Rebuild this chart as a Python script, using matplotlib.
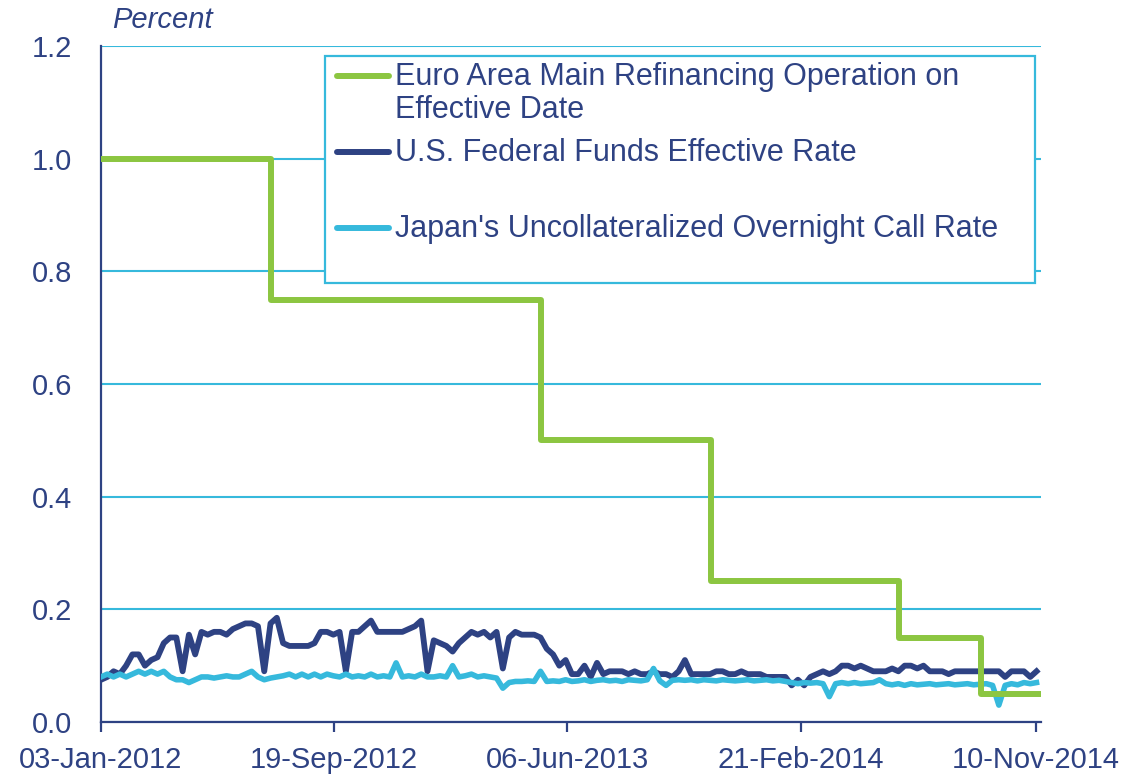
import numpy as np
import pandas as pd
import matplotlib
matplotlib.use("Agg")
import matplotlib.pyplot as plt
import matplotlib.dates as mdates
from matplotlib.lines import Line2D
from matplotlib.patches import Rectangle

plt.rcParams['font.family'] = ['Liberation Sans', 'DejaVu Sans']

weeks = pd.date_range("2012-01-03", periods=150, freq="7D")

fed_rate = [
    0.075, 0.08, 0.09, 0.085, 0.10, 0.12, 0.12, 0.10, 0.11, 0.115,
    0.14, 0.15, 0.15, 0.09, 0.155, 0.12, 0.16, 0.155, 0.16, 0.16,
    0.155, 0.165, 0.17, 0.175, 0.175, 0.17, 0.09, 0.175, 0.185, 0.14,
    0.135, 0.135, 0.135, 0.135, 0.14, 0.16, 0.16, 0.155, 0.16, 0.09,
    0.16, 0.16, 0.17, 0.18, 0.16, 0.16, 0.16, 0.16, 0.16, 0.165,
    0.17, 0.18, 0.09, 0.145, 0.14, 0.135, 0.125, 0.14, 0.15, 0.16,
    0.155, 0.16, 0.15, 0.16, 0.095, 0.15, 0.16, 0.155, 0.155, 0.155,
    0.15, 0.13, 0.12, 0.10, 0.11, 0.085, 0.085, 0.10, 0.08, 0.105,
    0.085, 0.09, 0.09, 0.09, 0.085, 0.09, 0.085, 0.085, 0.09, 0.085,
    0.085, 0.08, 0.09, 0.11, 0.085, 0.085, 0.085, 0.085, 0.09, 0.09,
    0.085, 0.085, 0.09, 0.085, 0.085, 0.085, 0.08, 0.08, 0.08, 0.08,
    0.065, 0.075, 0.065, 0.08, 0.085, 0.09, 0.085, 0.09, 0.10, 0.10,
    0.095, 0.10, 0.095, 0.09, 0.09, 0.09, 0.095, 0.09, 0.10, 0.10,
    0.095, 0.10, 0.09, 0.09, 0.09, 0.085, 0.09, 0.09, 0.09, 0.09,
    0.09, 0.09, 0.09, 0.09, 0.08, 0.09, 0.09, 0.09, 0.08, 0.09,
]

japan_rate = [
    0.08, 0.085, 0.08, 0.085, 0.08, 0.085, 0.09, 0.085, 0.09, 0.085,
    0.09, 0.08, 0.075, 0.075, 0.07, 0.075, 0.08, 0.08, 0.078, 0.08,
    0.082, 0.08, 0.08, 0.085, 0.09, 0.08, 0.075, 0.078, 0.08, 0.082,
    0.085, 0.08, 0.085, 0.08, 0.085, 0.08, 0.085, 0.082, 0.08, 0.085,
    0.08, 0.082, 0.08, 0.085, 0.08, 0.082, 0.08, 0.105, 0.08, 0.082,
    0.08, 0.085, 0.08, 0.08, 0.082, 0.08, 0.10, 0.08, 0.082, 0.085,
    0.08, 0.082, 0.08, 0.078, 0.06, 0.07, 0.072, 0.072, 0.073, 0.072,
    0.09, 0.072, 0.073, 0.072, 0.075, 0.072, 0.073, 0.075, 0.072, 0.074,
    0.075, 0.073, 0.074, 0.072, 0.075, 0.074, 0.073, 0.075, 0.095, 0.073,
    0.065, 0.074, 0.075, 0.074, 0.075, 0.073, 0.075, 0.074, 0.073, 0.075,
    0.074, 0.073, 0.074, 0.075, 0.073, 0.074, 0.075, 0.073, 0.074, 0.072,
    0.07, 0.068, 0.07, 0.069, 0.07, 0.068, 0.045, 0.068, 0.07, 0.068,
    0.07, 0.068, 0.069, 0.07, 0.075, 0.068, 0.066, 0.068, 0.065, 0.068,
    0.066, 0.067, 0.068, 0.066, 0.067, 0.068, 0.066, 0.067, 0.068, 0.066,
    0.067, 0.068, 0.065, 0.03, 0.065, 0.068, 0.066, 0.07, 0.068, 0.07,
]

# ECB main refinancing rate changes (effective dates)
ecb_dates = pd.to_datetime(["2012-01-03", "2012-07-11", "2013-05-08",
                            "2013-11-13", "2014-06-11", "2014-09-10", "2014-11-16"])
ecb_rate = [1.0, 0.75, 0.5, 0.25, 0.15, 0.05, 0.05]

tick_dates = pd.to_datetime(["2012-01-03", "2012-09-19", "2013-06-06",
                             "2014-02-21", "2014-11-10"])

navy = "#2E4283"
green = "#8CC641"
cyan = "#36B9DC"

fig = plt.figure(figsize=(11.34, 7.76), dpi=100)
ax = fig.add_axes([101 / 1134, 1 - 722 / 776, 940 / 1134, 676 / 776])

ax.plot(weeks, fed_rate, color=navy, lw=4.2, solid_joinstyle="round", zorder=3)
ax.plot(weeks, japan_rate, color=cyan, lw=4.0, solid_joinstyle="round", zorder=4)
ax.plot(ecb_dates, ecb_rate, color=green, lw=4.3, drawstyle="steps-post", zorder=5)

ax.set_ylim(0, 1.2)
ax.set_xlim(pd.Timestamp("2012-01-03"), pd.Timestamp("2014-11-16"))
ax.set_yticks(np.arange(0, 1.21, 0.2))
ax.yaxis.set_major_formatter(matplotlib.ticker.FormatStrFormatter("%.1f"))
ax.set_xticks(tick_dates)
ax.xaxis.set_major_formatter(mdates.DateFormatter("%d-%b-%Y"))

ax.grid(axis="y", color=cyan, lw=1.5, zorder=0)
ax.set_axisbelow(True)
for s in ["top", "right"]:
    ax.spines[s].set_visible(False)
for s in ["left", "bottom"]:
    ax.spines[s].set_color(navy)
    ax.spines[s].set_linewidth(1.6)
ax.tick_params(axis="y", length=0, pad=21, labelsize=21, labelcolor=navy)
ax.tick_params(axis="x", length=7.5, width=1.6, color=navy, pad=10,
               labelsize=21, labelcolor=navy)

fig.text(112 / 1134, 1 - 20 / 776, "Percent", fontsize=21, style="italic",
         color=navy, va="center", ha="left")

# legend box drawn by hand so handles sit on the first text line
W, H = 1134, 776
fig.add_artist(Rectangle((325 / W, 1 - 283 / H), 710 / W, 227 / H,
                         transform=fig.transFigure, fill=True, facecolor="white",
                         edgecolor=cyan, lw=1.6, zorder=10))
entries = [
    (green, 76, ["Euro Area Main Refinancing Operation on", "Effective Date"]),
    (navy, 152, ["U.S. Federal Funds Effective Rate"]),
    (cyan, 228, ["Japan's Uncollateralized Overnight Call Rate"]),
]
for color, yp, lines in entries:
    fig.add_artist(Line2D([337 / W, 389 / W], [1 - yp / H, 1 - yp / H],
                          transform=fig.transFigure, color=color, lw=4.3,
                          solid_capstyle="round", zorder=11))
    for k, t in enumerate(lines):
        fig.text(395 / W, 1 - (yp + 1 + 33 * k) / H, t, fontsize=22,
                 color=navy, va="center", ha="left", zorder=12)

fig.savefig("out.png", dpi=100)
